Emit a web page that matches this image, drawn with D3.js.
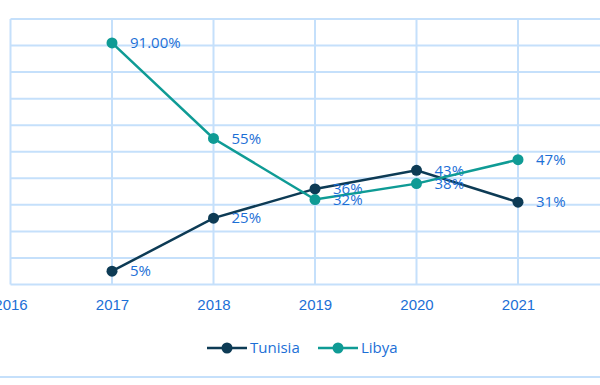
<!DOCTYPE html>
<html>
<head>
<meta charset="utf-8">
<script src="https://cdn.jsdelivr.net/npm/d3@7"></script>
<style>
body{margin:0;background:#fff;}
svg{display:block;font-family:"Open Sans","Noto Sans",sans-serif;}
</style>
</head>
<body>
<div id="chart"></div>
<script>
const years = [2017, 2018, 2019, 2020, 2021];
const tickYears = [2016, 2017, 2018, 2019, 2020, 2021];
const gridYears = [2016, 2017, 2018, 2019, 2020, 2021, 2022];
const tunisia = [5, 25, 36, 43, 31];
const libya = [91, 55, 32, 38, 47];
const tunisiaLabels = ["5%", "25%", "36%", "43%", "31%"];
const libyaLabels = ["91.00%", "55%", "32%", "38%", "47%"];
const yTicks = [0, 10, 20, 30, 40, 50, 60, 70, 80, 90, 100];

const W = 600, H = 385;
const gridColor = "#c5e0fb", labelColor = "#1c6fd6";
const fontSize = "15px";
const series = [
  {name: "Tunisia", values: tunisia, labels: tunisiaLabels, color: "#0d3b55"},
  {name: "Libya", values: libya, labels: libyaLabels, color: "#0f9b95"}
];

const svg = d3.select("#chart").append("svg")
  .attr("width", W).attr("height", H);

const x = d3.scaleLinear().domain([2016, 2022]).range([10.5, 619.5]);
const y = d3.scaleLinear().domain([0, 100]).range([284.5, 19]);

// horizontal grid
svg.append("g").selectAll("line").data(yTicks).enter().append("line")
  .attr("x1", x(2016)).attr("x2", W)
  .attr("y1", d => y(d)).attr("y2", d => y(d))
  .attr("stroke", gridColor).attr("stroke-width", 2);

// vertical grid
svg.append("g").selectAll("line").data(gridYears).enter().append("line")
  .attr("x1", d => x(d)).attr("x2", d => x(d))
  .attr("y1", y(100)).attr("y2", y(0))
  .attr("stroke", gridColor).attr("stroke-width", 2);

// x axis labels
const xAxis = svg.append("g")
  .attr("transform", `translate(0,${y(0)})`)
  .call(d3.axisBottom(x).tickValues(tickYears).tickFormat(d3.format("d")).tickSize(0).tickPadding(15));
xAxis.select(".domain").remove();
xAxis.selectAll("text").attr("fill", labelColor).style("font-size", fontSize);

const line = d3.line()
  .x((d, i) => x(years[i]))
  .y(d => y(d));

series.forEach(s => {
  const g = svg.append("g");
  g.append("path").datum(s.values)
    .attr("fill", "none").attr("stroke", s.color).attr("stroke-width", 2.5)
    .attr("d", line);
  g.selectAll("circle").data(s.values).enter().append("circle")
    .attr("cx", (d, i) => x(years[i])).attr("cy", d => y(d))
    .attr("r", 5.5).attr("fill", s.color);
  g.selectAll("text").data(s.values).enter().append("text")
    .attr("x", (d, i) => x(years[i]) + 18).attr("y", d => y(d))
    .attr("dy", "0.35em")
    .attr("fill", labelColor).style("font-size", fontSize)
    .text((d, i) => s.labels[i]);
});

// legend
const legendX = [207, 318];
series.forEach((s, i) => {
  const lg = svg.append("g").attr("transform", `translate(${legendX[i]},348)`);
  lg.append("line").attr("x1", 0).attr("x2", 40)
    .attr("stroke", s.color).attr("stroke-width", 2.5);
  lg.append("circle").attr("cx", 20).attr("r", 5.5).attr("fill", s.color);
  lg.append("text").attr("x", 43).attr("dy", "0.35em")
    .attr("fill", labelColor).style("font-size", fontSize).text(s.name);
});

// bottom border
svg.append("line").attr("x1", 0).attr("x2", W).attr("y1", 377).attr("y2", 377)
  .attr("stroke", gridColor).attr("stroke-width", 2);
</script>
</body>
</html>
